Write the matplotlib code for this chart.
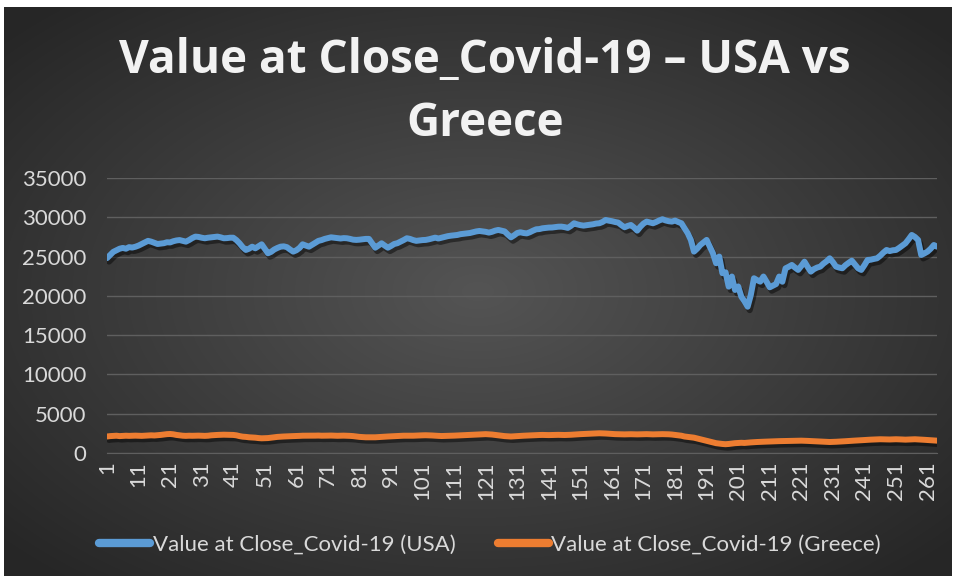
import matplotlib.pyplot as plt
import matplotlib.patheffects as pe
import numpy as np

# closing values, one per trading day
usa = [
    24800, 25200, 25600, 25800, 26000, 26100, 26000, 26200, 26150, 26250,
    26400, 26600, 26800, 27000, 26900, 26750, 26600, 26650, 26700, 26820,
    26800, 26950, 27050, 27100, 27000, 26900, 27100, 27350, 27540, 27500,
    27400, 27330, 27400, 27450, 27500, 27540, 27450, 27330, 27350, 27400,
    27400, 27100, 26690, 26200, 25840, 26000, 26260, 26050, 26300, 26560,
    26000, 25420, 25600, 25900, 26100, 26260, 26300, 26200, 25900, 25630,
    25800, 26100, 26560, 26400, 26260, 26500, 26750, 27000, 27100, 27250,
    27350, 27450, 27400, 27350, 27300, 27350, 27330, 27250, 27150, 27120,
    27150, 27200, 27250, 27250, 26700, 26130, 26400, 26690, 26400, 26130,
    26350, 26600, 26700, 26900, 27100, 27330, 27250, 27100, 27000, 27050,
    27100, 27120, 27200, 27300, 27410, 27300, 27400, 27500, 27600, 27660,
    27700, 27750, 27850, 27900, 27960, 28000, 28100, 28200, 28260, 28200,
    28150, 28050, 28150, 28300, 28390, 28300, 28200, 27800, 27450, 27700,
    28000, 28090, 28000, 27950, 28100, 28300, 28470, 28500, 28600, 28650,
    28690, 28700, 28750, 28800, 28810, 28750, 28650, 28900, 29240, 29100,
    29000, 28940, 29000, 29050, 29110, 29200, 29240, 29400, 29660, 29570,
    29500, 29400, 29320, 29000, 28730, 28900, 29020, 28700, 28300, 28800,
    29200, 29450, 29350, 29240, 29400, 29600, 29750, 29600, 29500, 29450,
    29580, 29400, 29240, 28600, 27970, 27120, 25630, 26000, 26470, 26800,
    27120, 26260, 25420, 24150, 25000, 22880, 23000, 21170, 22460, 20750,
    21200, 19900, 19300, 18620, 20110, 22240, 22000, 21810, 22460, 21800,
    21090, 21300, 21500, 22460, 21800, 23500, 23700, 23930, 23600, 23300,
    23800, 24350, 23700, 23080, 23400, 23600, 23720, 24100, 24400, 24780,
    24300, 23720, 23600, 23510, 23900, 24200, 24480, 24000, 23500, 23300,
    23900, 24570, 24600, 24700, 24780, 25100, 25500, 25840, 25700, 25800,
    25840, 26100, 26400, 26690, 27200, 27750, 27500, 27120, 25200, 25400,
    25630, 26000, 26470, 26260,
]

greece = [
    2100, 2150, 2180, 2200, 2150, 2170, 2200, 2180, 2200, 2210,
    2200, 2180, 2200, 2220, 2250, 2230, 2260, 2300, 2350, 2400,
    2420, 2380, 2300, 2250, 2200, 2180, 2200, 2190, 2200, 2210,
    2200, 2180, 2200, 2250, 2280, 2300, 2320, 2330, 2320, 2300,
    2300, 2250, 2150, 2080, 2050, 2000, 1980, 1950, 1900, 1870,
    1880, 1900, 1950, 2000, 2050, 2080, 2100, 2120, 2150, 2150,
    2160, 2180, 2200, 2200, 2190, 2200, 2210, 2220, 2200, 2200,
    2210, 2220, 2200, 2190, 2200, 2210, 2200, 2180, 2150, 2100,
    2050, 2020, 2000, 2000, 1990, 2000, 2020, 2050, 2080, 2100,
    2120, 2150, 2160, 2180, 2200, 2200, 2210, 2200, 2220, 2240,
    2250, 2260, 2250, 2230, 2200, 2180, 2160, 2170, 2190, 2200,
    2210, 2230, 2250, 2260, 2280, 2300, 2320, 2350, 2380, 2390,
    2400, 2380, 2350, 2300, 2250, 2200, 2150, 2120, 2100, 2120,
    2150, 2180, 2200, 2220, 2250, 2270, 2280, 2290, 2300, 2290,
    2280, 2290, 2300, 2310, 2300, 2290, 2300, 2320, 2350, 2380,
    2400, 2420, 2440, 2460, 2480, 2500, 2510, 2500, 2480, 2450,
    2420, 2400, 2390, 2380, 2370, 2380, 2390, 2380, 2370, 2380,
    2390, 2400, 2380, 2370, 2380, 2390, 2400, 2390, 2380, 2350,
    2300, 2250, 2200, 2100, 2050, 2000, 1950, 1850, 1750, 1650,
    1550, 1450, 1350, 1250, 1200, 1150, 1120, 1150, 1200, 1250,
    1270, 1300, 1280, 1320, 1350, 1380, 1400, 1420, 1440, 1450,
    1460, 1480, 1500, 1510, 1520, 1540, 1550, 1560, 1570, 1580,
    1570, 1560, 1540, 1520, 1500, 1480, 1460, 1440, 1420, 1400,
    1410, 1430, 1450, 1480, 1500, 1530, 1550, 1580, 1600, 1630,
    1650, 1680, 1700, 1720, 1740, 1750, 1740, 1730, 1720, 1740,
    1750, 1740, 1720, 1700, 1720, 1740, 1750, 1730, 1700, 1680,
    1650, 1620, 1600, 1570,
]

days = np.arange(1, len(usa) + 1)
yticks = [0, 5000, 10000, 15000, 20000, 25000, 30000, 35000]

plt.rcParams['font.family'] = ['Lato', 'DejaVu Sans']
txt = '#d9d9d9'

fig = plt.figure(figsize=(9.55, 5.81), dpi=100, facecolor='white')

# dark radial background
bg = fig.add_axes([4 / 955, 5 / 581, 947 / 955, 569 / 581], zorder=-1)
gx, gy = np.meshgrid(np.linspace(-1, 1, 400), np.linspace(-1, 1, 250))
r = np.clip(np.sqrt(gx ** 2 + gy ** 2) / 1.35, 0, 1)
c0, c1 = np.array([0.33, 0.33, 0.33]), np.array([0.15, 0.15, 0.15])
img = c0[None, None, :] * (1 - r[..., None]) + c1[None, None, :] * r[..., None]
bg.imshow(img, aspect='auto', interpolation='bilinear')
bg.axis('off')

ax = fig.add_axes([107 / 955, 1 - 453 / 581, 830 / 955, 275 / 581])
ax.set_facecolor('none')

shadow = [pe.SimpleLineShadow(offset=(1.5, -2.5), shadow_color='black', alpha=0.45),
          pe.Normal()]
ax.plot(days, usa, color='#5b9bd5', lw=4.3, solid_capstyle='round',
        solid_joinstyle='round', path_effects=shadow,
        label='Value at Close_Covid-19 (USA)')
ax.plot(days, greece, color='#ed7d31', lw=4.3, solid_capstyle='round',
        solid_joinstyle='round', path_effects=shadow,
        label='Value at Close_Covid-19 (Greece)')

ax.set_xlim(1, len(usa))
ax.set_ylim(0, 35000)
ax.set_yticks(yticks)
ax.set_yticklabels([str(v) for v in yticks])
ax.set_xticks(days[::10])
ax.set_xticklabels([str(d) for d in days[::10]], rotation=90)
ax.grid(axis='y', color='#5f5f5f', lw=1)
ax.set_axisbelow(True)
for s in ['top', 'right', 'left']:
    ax.spines[s].set_visible(False)
ax.spines['bottom'].set_color('#5f5f5f')
ax.tick_params(axis='both', length=0, colors=txt, labelsize=16)
ax.tick_params(axis='y', pad=15)
ax.tick_params(axis='x', pad=6)

fig.text(0.508, 1 - 92 / 581, 'Value at Close_Covid-19 – USA vs\nGreece',
         ha='center', va='center', color='#f2f2f2', fontsize=33,
         fontweight='bold', linespacing=1.43, family=['Open Sans', 'DejaVu Sans'])

leg = fig.legend(loc='center', bbox_to_anchor=(0.513, 1 - 545 / 581), ncol=2,
                 frameon=False, fontsize=16, handlelength=2.3,
                 columnspacing=1.9, handletextpad=0.1)
for t in leg.get_texts():
    t.set_color(txt)
for h in leg.legend_handles:
    h.set_path_effects([])
    h.set_linewidth(6)

fig.savefig('out.png', dpi=100, facecolor='white')
